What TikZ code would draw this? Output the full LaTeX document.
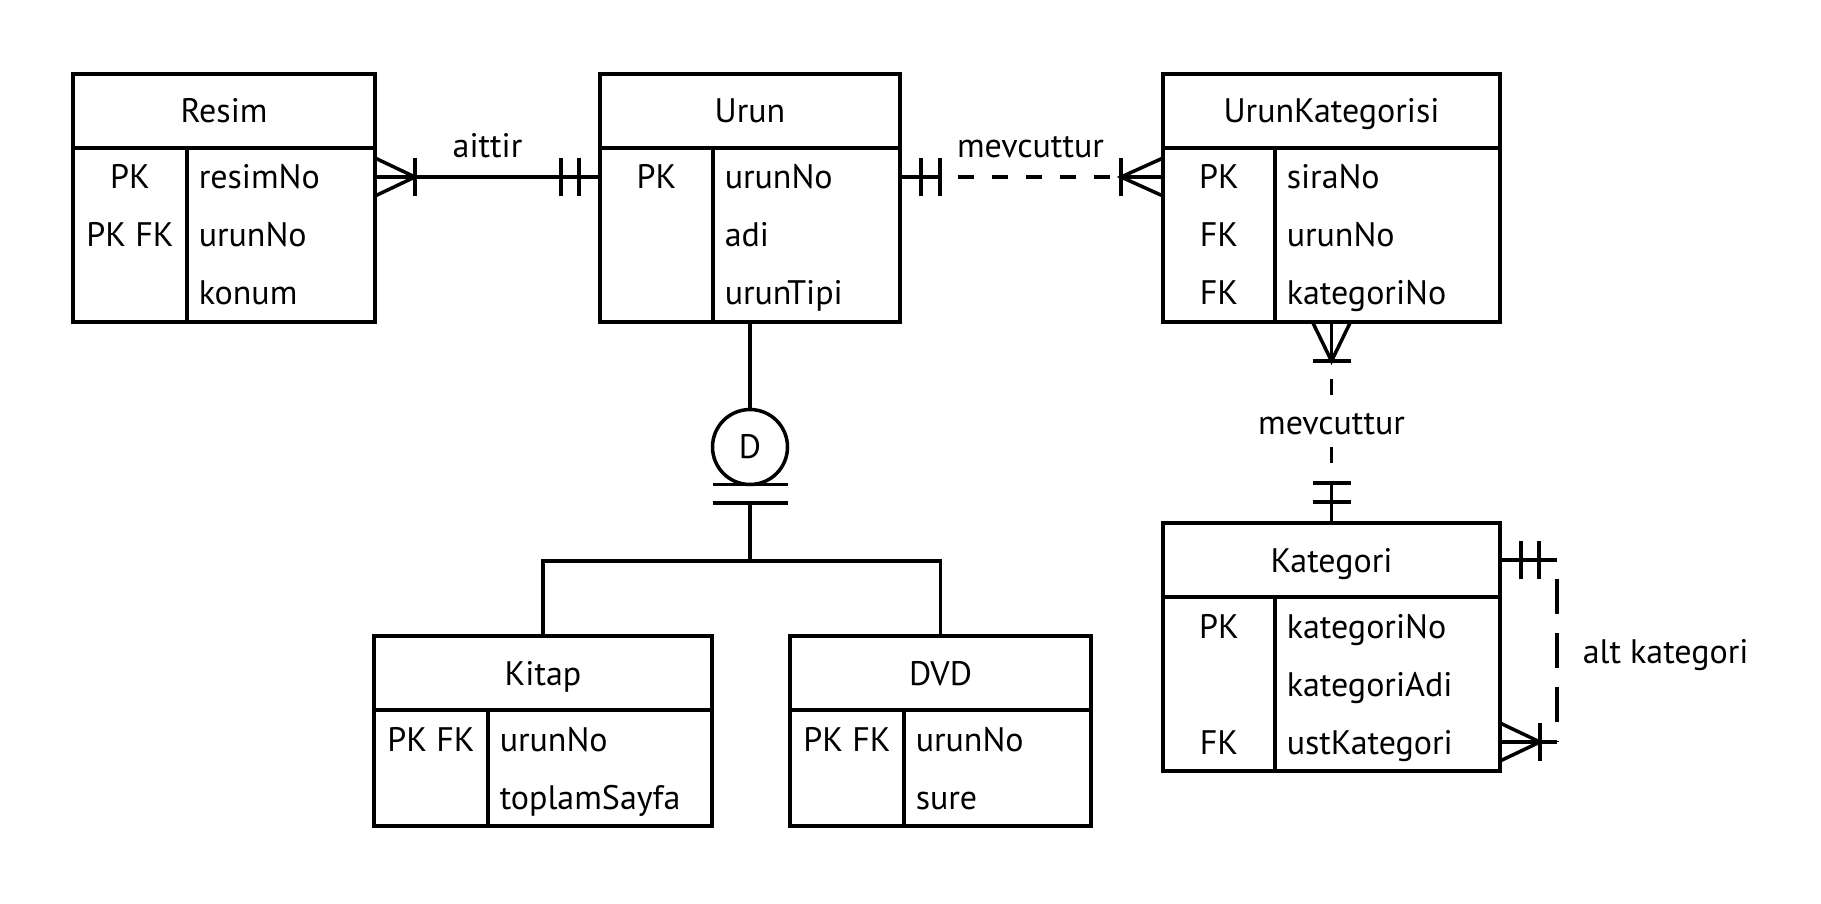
\documentclass[tikz,border=0pt]{standalone}
\usepackage{fontspec}
\setmainfont{PT Sans}
\usetikzlibrary{positioning}

\begin{document}
\begin{tikzpicture}[
    x=1pt, y=-1pt, line width=3.5pt,
    font=\fontsize{34}{40}\selectfont,
    hdr/.style={rectangle, draw, outer sep=0pt, inner sep=0pt, minimum height=74pt, text height=24pt, text depth=0pt},
    bdy/.style={rectangle, draw, outer sep=0pt, inner sep=0pt},
    kcol/.style={rectangle, draw, outer sep=0pt, inner sep=0pt, anchor=north west},
    key/.style={inner sep=0pt, text height=24pt, text depth=0pt},
    fld/.style={key, anchor=west},
    lbl/.style={inner sep=0pt, text height=24pt, text depth=0pt},
    dis/.style={circle, draw, outer sep=0pt, inner sep=0pt, minimum size=75pt},
    dsh/.style={dash pattern=on 16pt off 18pt, dash phase=16pt},
    ldsh/.style={dash pattern=on 35pt off 19pt, dash phase=35pt}
]
\fill[white] (0,0) rectangle (1821,904);

% Resim
\node[hdr, minimum width=302pt] (resim) at (224,111) {Resim};
\node[bdy, minimum width=302pt, minimum height=174pt, below=0pt of resim] (resimB) {};
\node[kcol, minimum width=114pt, minimum height=174pt] (resimK) at (resimB.north west) {};
\node[key] (resimP1) at (130,177) {PK};
\node[key] (resimP2) at (130,235) {PK FK};
\node[fld] (resimF1) at (197,177) {resimNo};
\node[fld] (resimF2) at (197,235) {urunNo};
\node[fld] (resimF3) at (197,293) {konum};

% Urun
\node[hdr, minimum width=300pt] (urun) at (750,111) {Urun};
\node[bdy, minimum width=300pt, minimum height=174pt, below=0pt of urun] (urunB) {};
\node[kcol, minimum width=113pt, minimum height=174pt] (urunK) at (urunB.north west) {};
\node[key] (urunP1) at (656.5,177) {PK};
\node[fld] (urunF1) at (723,177) {urunNo};
\node[fld] (urunF2) at (723,235) {adi};
\node[fld] (urunF3) at (723,293) {urunTipi};

% UrunKategorisi
\node[hdr, minimum width=337pt] (uk) at (1331.5,111) {UrunKategorisi};
\node[bdy, minimum width=337pt, minimum height=174pt, below=0pt of uk] (ukB) {};
\node[kcol, minimum width=112pt, minimum height=174pt] (ukK) at (ukB.north west) {};
\node[key] (ukP1) at (1219,177) {PK};
\node[key] (ukP2) at (1219,235) {FK};
\node[key] (ukP3) at (1219,293) {FK};
\node[fld] (ukF1) at (1285,177) {siraNo};
\node[fld] (ukF2) at (1285,235) {urunNo};
\node[fld] (ukF3) at (1285,293) {kategoriNo};

% Kategori
\node[hdr, minimum width=337pt] (kat) at (1331.5,560) {Kategori};
\node[bdy, minimum width=337pt, minimum height=174pt, below=0pt of kat] (katB) {};
\node[kcol, minimum width=112pt, minimum height=174pt] (katK) at (katB.north west) {};
\node[key] (katP1) at (1219,626) {PK};
\node[key] (katP3) at (1219,742) {FK};
\node[fld] (katF1) at (1285,626) {kategoriNo};
\node[fld] (katF2) at (1285,684) {kategoriAdi};
\node[fld] (katF3) at (1285,742) {ustKategori};

% Kitap
\node[hdr, minimum width=338pt] (kitap) at (543,673) {Kitap};
\node[bdy, minimum width=338pt, minimum height=116pt, below=0pt of kitap] (kitapB) {};
\node[kcol, minimum width=114pt, minimum height=116pt] (kitapK) at (kitapB.north west) {};
\node[key] (kitapP1) at (431,739) {PK FK};
\node[fld] (kitapF1) at (498,739) {urunNo};
\node[fld] (kitapF2) at (498,797) {toplamSayfa};

% DVD
\node[hdr, minimum width=301pt] (dvd) at (940.5,673) {DVD};
\node[bdy, minimum width=301pt, minimum height=116pt, below=0pt of dvd] (dvdB) {};
\node[kcol, minimum width=114pt, minimum height=116pt] (dvdK) at (dvdB.north west) {};
\node[key] (dvdP1) at (847,739) {PK FK};
\node[fld] (dvdF1) at (914,739) {urunNo};
\node[fld] (dvdF2) at (914,797) {sure};

% Resim -- Urun
\coordinate (r1) at (resimB.east |- resimF1);
\coordinate (u0) at (urunB.west |- urunF1);
\draw (r1) -- (u0) node[midway, lbl, above=18pt] {aittir};
\draw (r1) ++(0,-19) -- ++(40,19) -- ++(-40,19);
\draw (r1) ++(40,-19) -- ++(0,38);
\draw (u0) ++(-21,-19) -- ++(0,38);
\draw (u0) ++(-39,-19) -- ++(0,38);

% Urun -- UrunKategorisi
\coordinate (u1) at (urunB.east |- urunF1);
\coordinate (k0) at (ukB.west |- ukF1);
\coordinate (b1) at ([xshift=40pt]u1);
\coordinate (b2) at ([xshift=-42pt]k0);
\draw (u1) -- (b1);
\draw (k0) -- (b2);
\draw[dsh] (b1) -- (b2) node[midway, lbl, above=18pt] {mevcuttur};
\draw (u1) ++(21,-19) -- ++(0,38);
\draw (b1) ++(0,-19) -- ++(0,38);
\draw (k0) ++(0,-19) -- (b2) -- ++(42,19);
\draw (b2) ++(0,-19) -- ++(0,38);

% UrunKategorisi -- Kategori
\coordinate (c1) at ([yshift=-39pt]ukB.south);
\coordinate (c2) at ([yshift=40pt]kat.north);
\draw (ukB.south) -- (c1);
\draw (kat.north) -- (c2);
\draw[dsh] (c1) -- (c2) node[midway, lbl, fill=white, inner ysep=12pt, inner xsep=2pt] {mevcuttur};
\draw (ukB.south) ++(-19,0) -- (c1) -- ++(19,-39);
\draw (c1) ++(-19,0) -- ++(38,0);
\draw (c2) ++(-19,0) -- ++(38,0);
\draw (kat.north) ++(-19,-21) -- ++(38,0);

% Kategori -- Kategori
\coordinate (k3) at (katB.east |- katF3);
\coordinate (s1) at ([xshift=57pt]kat.east);
\coordinate (s2) at (s1 |- k3);
\draw (kat.east) -- (s1);
\draw (k3) -- (s2);
\draw[ldsh] (s1) -- (s2) node[midway, lbl, right=24pt] {alt kategori};
\draw (kat.east) ++(21,-19) -- ++(0,38);
\draw (kat.east) ++(39,-19) -- ++(0,38);
\draw (k3) ++(0,-19) -- ++(40,19) -- ++(-40,19);
\draw (k3) ++(40,-19) -- ++(0,38);

% Urun -- Kitap / DVD
\node[dis] (disj) at (750,447) {D};
\draw (urunB.south) -- (disj.north);
\draw (disj.south -| disj.west) -- (disj.south -| disj.east);
\coordinate (d1) at ([yshift=-18.5pt]disj.south);
\draw (d1 -| disj.west) -- (d1 -| disj.east);
\coordinate (t0) at ([yshift=75pt]kitap.north);
\draw (kitap.north) -- (t0) -| (dvd.north);
\draw (d1) -- (d1 |- t0);
\end{tikzpicture}
\end{document}
